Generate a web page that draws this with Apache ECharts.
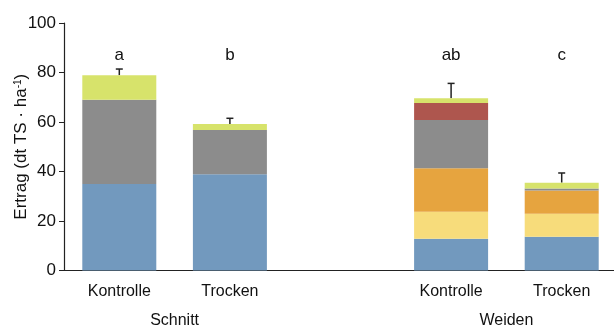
<!DOCTYPE html>
<html><head><meta charset="utf-8">
<script src="https://cdn.jsdelivr.net/npm/echarts@6/dist/echarts.min.js"></script>
<style>html,body{margin:0;padding:0;background:#fff}#c{width:614px;height:327px}</style>
</head><body><div id="c"></div>
<script>
var categories = ['Kontrolle', 'Trocken', '', 'Kontrolle', 'Trocken'];
var groups = ['Schnitt', 'Weiden'];
var letters = ['a', 'b', '', 'ab', 'c'];
var blue   = [35.0, 38.9, '-', 12.8, 13.6];
var yellow = [0, 0, '-', 10.9, 9.3];
var orange = [0, 0, '-', 17.6, 9.4];
var gray   = [34.0, 17.9, '-', 19.5, 0.8];
var red    = [0, 0, '-', 6.9, 0];
var green  = [9.9, 2.4, '-', 1.9, 2.4];
var errUp  = [2.5, 2.3, '-', 6.0, 3.9];
var yTicks = [0, 20, 40, 60, 80, 100];

var font = 'Liberation Sans';
var stacks = [blue, yellow, orange, gray, red, green];
var colors = ['#7299BE', '#F7DC7B', '#E6A43F', '#8C8C8C', '#AE564E', '#D7E36B'];
var names = ['s1', 's2', 's3', 's4', 's5', 's6'];

var totals = categories.map(function (c, i) {
  if (blue[i] === '-') return '-';
  var s = 0; stacks.forEach(function (a) { s += a[i]; }); return s;
});

var series = stacks.map(function (arr, k) {
  return {
    type: 'bar', name: names[k], stack: 'a', data: arr, barWidth: 74,
    itemStyle: { color: colors[k] }, silent: true
  };
});

series.push({
  type: 'custom', clip: false, silent: true,
  data: categories.map(function (c, i) { return [i, totals[i], errUp[i]]; }).filter(function (d) { return d[1] !== '-'; }),
  renderItem: function (params, api) {
    var x = api.value(0), t = api.value(1), e = api.value(2);
    var p0 = api.coord([x, t]), p1 = api.coord([x, t + e]);
    return { type: 'group', children: [
      { type: 'line', shape: { x1: p0[0], y1: p0[1], x2: p1[0], y2: p1[1] }, style: { stroke: '#222', lineWidth: 1.5 } },
      { type: 'line', shape: { x1: p1[0] - 3.5, y1: p1[1], x2: p1[0] + 3.5, y2: p1[1] }, style: { stroke: '#222', lineWidth: 1.5 } }
    ]};
  }
});

series.push({
  type: 'custom', clip: false, silent: true,
  data: categories.map(function (c, i) { return [i, 87]; }).filter(function (d) { return letters[d[0]] !== ''; }),
  renderItem: function (params, api) {
    var x = api.value(0), p = api.coord([x, api.value(1)]);
    return { type: 'text', x: p[0], y: p[1], style: { text: letters[x], fill: '#111', font: '17px ' + font, textAlign: 'center', textVerticalAlign: 'middle' } };
  }
});

series.push({
  type: 'custom', clip: false, silent: true,
  data: [[0, 1, 0], [3, 4, 1]],
  renderItem: function (params, api) {
    var a = api.coord([api.value(0), 0]), b = api.coord([api.value(1), 0]);
    return { type: 'text', x: (a[0] + b[0]) / 2, y: a[1] + 50, style: { text: groups[api.value(2)], fill: '#111', font: '16px ' + font, textAlign: 'center', textVerticalAlign: 'middle' } };
  }
});

var chart = echarts.init(document.getElementById('c'), null, { renderer: 'canvas' });
chart.setOption({
  animation: false,
  backgroundColor: '#fff',
  grid: { left: 64, top: 23, width: 553, bottom: 56.5, containLabel: false, outerBoundsMode: 'none' },
  xAxis: {
    type: 'category', data: categories,
    axisLine: { lineStyle: { color: '#222', width: 1.2 } },
    axisTick: { show: false },
    axisLabel: { color: '#111', fontFamily: font, fontSize: 16, margin: 13, interval: 0 }
  },
  yAxis: {
    type: 'value', min: 0, max: 100, interval: 20,
    axisLine: { show: true, lineStyle: { color: '#222', width: 1.2 } },
    axisTick: { show: true, length: 5, lineStyle: { color: '#222' } },
    splitLine: { show: false },
    axisLabel: { color: '#111', fontFamily: font, fontSize: 17, margin: 8,
      formatter: function (v) { return yTicks.indexOf(v) >= 0 ? String(v) : ''; } },
    name: '{n|Ertrag (dt TS · ha}{s|-1}{n|)}',
    nameLocation: 'middle', nameGap: 34, nameRotate: 90, nameMoveOverlap: false,
    nameTextStyle: { rich: {
      n: { fontFamily: font, fontSize: 17, color: '#111' },
      s: { fontFamily: font, fontSize: 10, color: '#111', verticalAlign: 'top', padding: [0, 0, 6, 0] }
    } }
  },
  series: series
});
</script></body></html>
